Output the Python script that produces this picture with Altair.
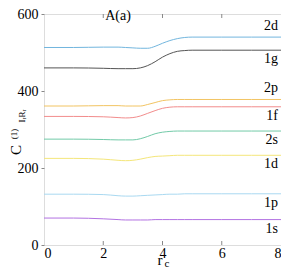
import altair as alt
import pandas as pd

xs = [0, 1, 2, 2.5, 2.75, 3, 3.25, 3.5, 3.75, 4, 4.25, 4.5, 4.75, 5, 6, 7, 8]
s_2d = [513, 513, 514, 514, 513, 512, 511, 511, 516, 524, 531, 536, 539, 540, 540, 540, 540]
s_1g = [460, 460, 459, 458, 458, 458, 460, 466, 476, 488, 497, 503, 505, 506, 506, 506, 506]
s_2p = [361, 361, 362, 362, 361, 361, 361, 365, 370, 375, 377, 378, 378, 378, 378, 378, 378]
s_1f = [334, 334, 333, 331, 330, 331, 335, 342, 349, 355, 358, 359, 359, 359, 359, 359, 359]
s_2s = [275, 275, 274, 273, 273, 273, 276, 282, 289, 293, 295, 296, 296, 296, 296, 296, 296]
s_1d = [225, 225, 223, 220, 219, 220, 223, 227, 230, 231, 232, 233, 233, 233, 233, 233, 233]
s_1p = [132, 132, 131, 128, 127, 127, 128, 129, 130, 131, 132, 132, 133, 133, 133, 133, 133]
s_1s = [70, 70, 68, 66, 65, 65, 65, 65, 66, 66, 66, 66, 66, 66, 66, 66, 66]

names = ["2d", "1g", "2p", "1f", "2s", "1d", "1p", "1s"]
series = [s_2d, s_1g, s_2p, s_1f, s_2s, s_1d, s_1p, s_1s]
colors = ["#72b6de", "#555555", "#f2c462", "#f28c8c", "#72caa8", "#f4e67a", "#a9d9f1", "#b272e2"]
label_pos = ["above", "below", "above", "below", "below", "below", "below", "below"]

x_ticks = [2, 4, 6]

rows = []
for n, s in zip(names, series):
    for x, v in zip(xs, s):
        rows.append({"state": n, "r": x, "C": v})
df = pd.DataFrame(rows)

lab = pd.DataFrame({"state": names, "r": [8] * len(names),
                    "C": [s[-1] for s in series], "pos": label_pos})

W, H = 237, 231
FONT = "'Liberation Serif', 'Times New Roman', 'DejaVu Serif', serif"
xsc = alt.Scale(domain=[0, 8], nice=False)
ysc = alt.Scale(domain=[0, 600], nice=False)
cscale = alt.Scale(domain=names, range=colors)

lines = alt.Chart(df).mark_line(strokeWidth=1, interpolate="monotone").encode(
    x=alt.X("r:Q", scale=xsc,
            axis=alt.Axis(values=[0, 2, 4, 6, 8], tickSize=0, domain=False, grid=False,
                          labelFont=FONT, labelFontSize=14, labelColor="#000",
                          labelPadding=1, title=None, format="d")),
    y=alt.Y("C:Q", scale=ysc,
            axis=alt.Axis(values=[0, 200, 400, 600], tickSize=3, tickColor="#888888",
                          domain=False, grid=False,
                          labelFont=FONT, labelFontSize=14, labelColor="#000",
                          labelPadding=3, title=None)),
    color=alt.Color("state:N", scale=cscale, legend=None),
    detail="state:N",
)

above = alt.Chart(lab[lab.pos == "above"]).mark_text(
    align="right", baseline="middle", dx=-3, dy=-11, font=FONT, fontSize=14, color="#000"
).encode(x=alt.X("r:Q", scale=xsc), y=alt.Y("C:Q", scale=ysc), text="state:N")
below = alt.Chart(lab[lab.pos == "below"]).mark_text(
    align="right", baseline="middle", dx=-3, dy=9, font=FONT, fontSize=14, color="#000"
).encode(x=alt.X("r:Q", scale=xsc), y=alt.Y("C:Q", scale=ysc), text="state:N")

xt = pd.DataFrame({"r": x_ticks})
tick_color = "#888888"
xt_bot = alt.Chart(xt).mark_rule(color=tick_color, strokeWidth=1).encode(
    x=alt.X("r:Q", scale=xsc), y=alt.value(H), y2=alt.value(H - 4))
xt_top = alt.Chart(xt).mark_rule(color=tick_color, strokeWidth=1).encode(
    x=alt.X("r:Q", scale=xsc), y=alt.value(0), y2=alt.value(4))

title_a = alt.Chart(pd.DataFrame({"t": ["A(a)"]})).mark_text(
    font=FONT, fontSize=14, color="#000", align="center", baseline="middle"
).encode(x=alt.value(74), y=alt.value(2), text="t:N")

ytitle_c = alt.Chart(pd.DataFrame({"t": ["C"]})).mark_text(
    font=FONT, fontSize=15, color="#000", angle=270, align="center", baseline="middle"
).encode(x=alt.value(-28), y=alt.value(136), text="t:N")
ytitle_sup = alt.Chart(pd.DataFrame({"t": ["(1)"]})).mark_text(
    font=FONT, fontSize=9, color="#000", angle=270, align="center", baseline="middle"
).encode(x=alt.value(-30), y=alt.value(120), text="t:N")
ytitle_sub = alt.Chart(pd.DataFrame({"t": ["IᵣRᵣ"]})).mark_text(
    font=FONT, fontSize=9, color="#000", angle=270, align="center", baseline="middle"
).encode(x=alt.value(-22), y=alt.value(102), text="t:N")

xtitle_r = alt.Chart(pd.DataFrame({"t": ["r"]})).mark_text(
    font=FONT, fontSize=15, color="#000", align="center", baseline="alphabetic"
).encode(x=alt.value(116), y=alt.value(251), text="t:N")
xtitle_c = alt.Chart(pd.DataFrame({"t": ["c"]})).mark_text(
    font=FONT, fontSize=11, color="#000", align="center", baseline="alphabetic"
).encode(x=alt.value(123), y=alt.value(253), text="t:N")

chart = alt.layer(
    lines, above, below, xt_bot, xt_top, title_a,
    ytitle_c, ytitle_sup, ytitle_sub, xtitle_r, xtitle_c
).properties(
    width=W, height=H,
    autosize=alt.AutoSizeParams(type="none"),
    padding={"left": 36, "top": 6, "right": 0, "bottom": 23},
).configure_view(
    stroke="#555555", strokeWidth=1.5
).configure_axis(
    labelFont=FONT
).configure(background="white")

chart.save("out.html", embed_options={"renderer": "svg", "actions": False})
